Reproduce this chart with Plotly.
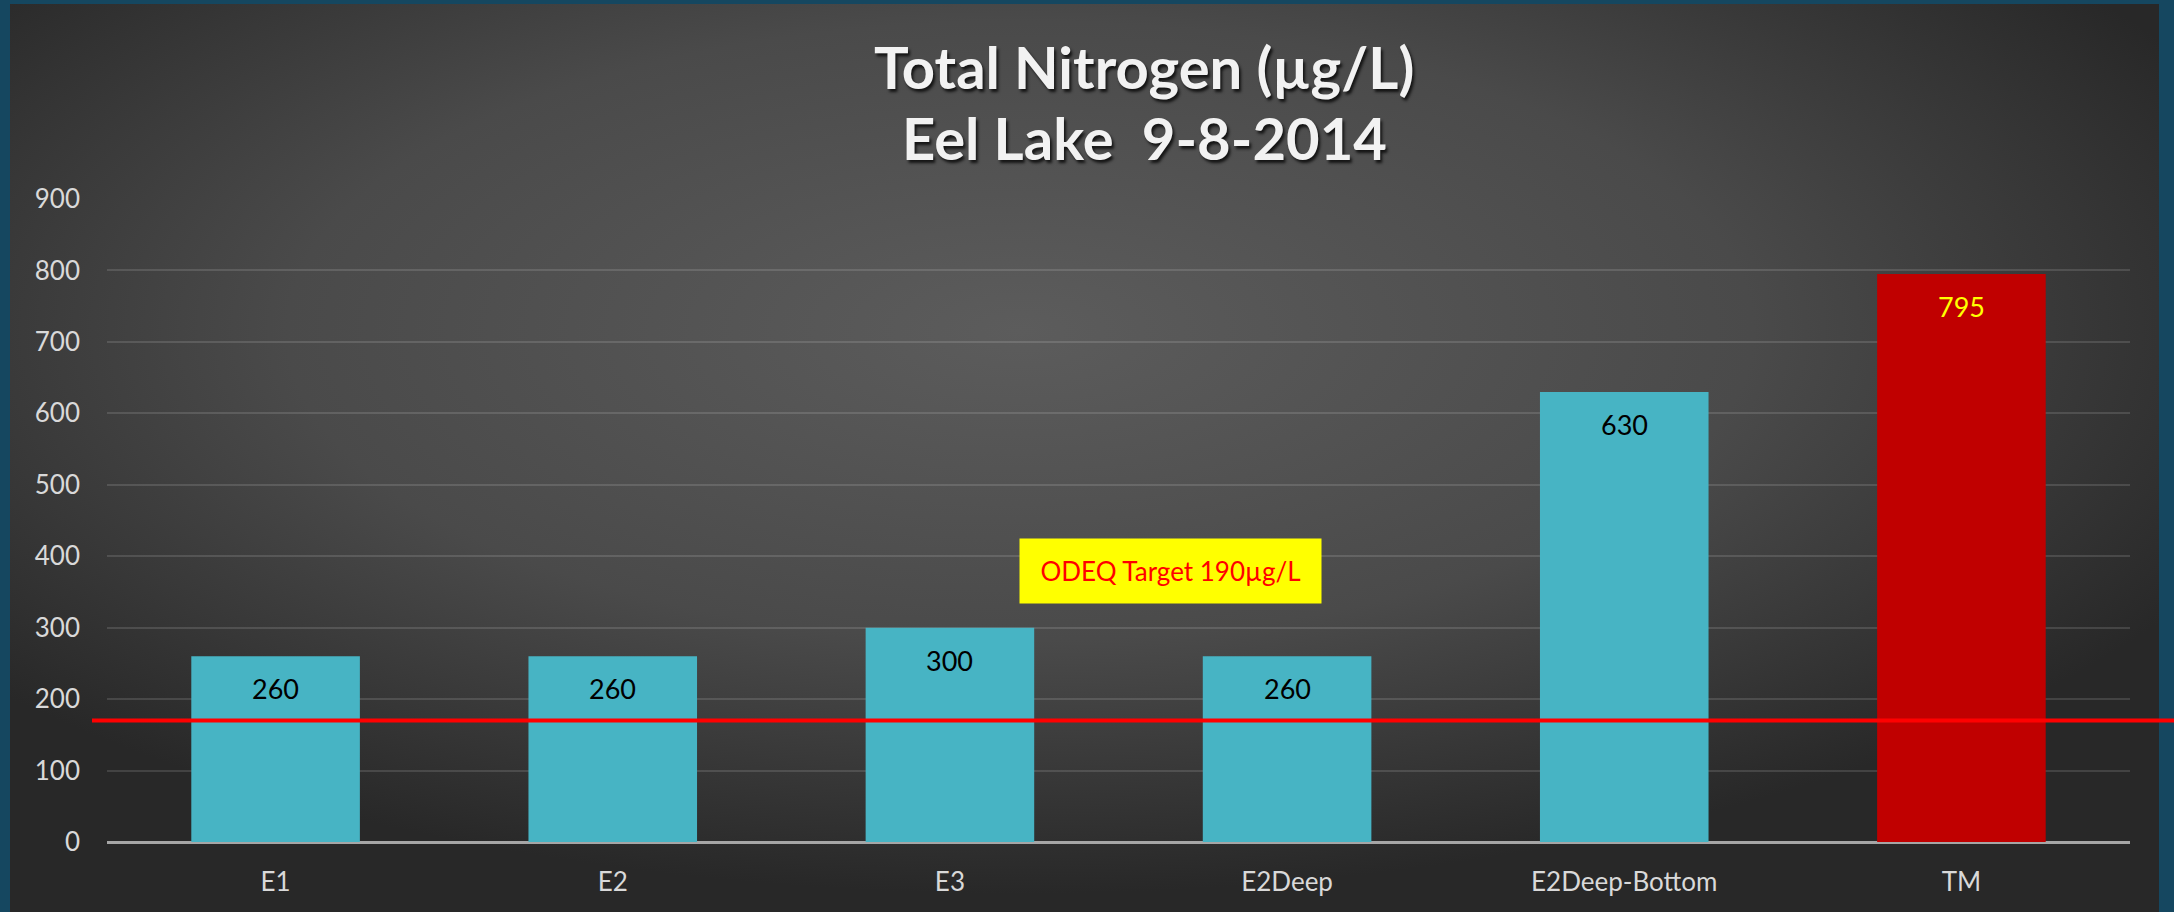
import base64
import plotly.graph_objects as go

# data
sites = ["E1", "E2", "E3", "E2Deep", "E2Deep-Bottom", "TM"]
total_n = [260, 260, 300, 260, 630, 795]
bar_colors = ["#47b4c4", "#47b4c4", "#47b4c4", "#47b4c4", "#47b4c4", "#c00000"]
label_colors = ["#000000", "#000000", "#000000", "#000000", "#000000", "#ffff00"]
target_line = 170
target_text = "ODEQ Target 190µg/L"
title_lines = ["Total Nitrogen (µg/L)", "Eel Lake  9-8-2014"]
y_ticks = [0, 100, 200, 300, 400, 500, 600, 700, 800, 900]

W, H = 2174, 912
ML, MR, MT, MB = 107, 44, 199, 70
FONT = "Lato, 'Open Sans', sans-serif"

# radial grey gradient for the slide panel
svg = (
    "<svg xmlns='http://www.w3.org/2000/svg' viewBox='0 0 100 100' preserveAspectRatio='none'>"
    "<defs><radialGradient id='g' cx='0.47' cy='0.36' r='0.62'>"
    "<stop offset='0' stop-color='#5c5c5c'/><stop offset='0.55' stop-color='#4a4a4a'/>"
    "<stop offset='1' stop-color='#282828'/></radialGradient></defs>"
    "<rect x='0' y='0' width='100' height='100' fill='url(#g)'/></svg>"
)
bg_src = "data:image/svg+xml;base64," + base64.b64encode(svg.encode()).decode()

pw, ph = W - ML - MR, H - MT - MB
panel = dict(left=10, right=2159, top=4, bottom=912)


def px_to_paper_y(py):
    return (H - MB - py) / ph


fig = go.Figure()
fig.add_trace(go.Bar(
    x=sites, y=total_n,
    marker=dict(color=bar_colors, line=dict(width=0)),
    width=0.5,
    hoverinfo="x+y",
))

# value labels near the top of each bar
for s, v, c in zip(sites, total_n, label_colors):
    fig.add_annotation(x=s, y=v, text=str(v), showarrow=False,
                       yanchor="top", yshift=-14,
                       font=dict(family=FONT, size=27, color=c))

# target line
fig.add_shape(type="line", xref="paper", yref="y",
              x0=(92 - ML) / pw, x1=(W - ML) / pw, y0=target_line, y1=target_line,
              line=dict(color="#ff0000", width=4))

fig.add_annotation(xref="paper", yref="y", x=(1170 - ML) / pw, y=380,
                   text=target_text, showarrow=False,
                   bgcolor="#ffff00", width=297, height=60, borderpad=2,
                   font=dict(family=FONT, size=26, color="#ff0000"))

# two-line title
for txt, cy in zip(title_lines, [67, 137]):
    fig.add_annotation(xref="paper", yref="paper", x=(1144 - ML) / pw, y=px_to_paper_y(cy),
                       text=txt, showarrow=False, xanchor="center", yanchor="middle",
                       font=dict(family=FONT, size=58, color="#f2f2f2", weight="bold",
                                 shadow="2px 3px 3px rgba(0,0,0,0.75)"))

fig.add_layout_image(dict(
    source=bg_src, xref="paper", yref="paper",
    x=(panel["left"] - ML) / pw, y=px_to_paper_y(panel["top"]),
    sizex=(panel["right"] - panel["left"]) / pw,
    sizey=(panel["bottom"] - panel["top"]) / ph,
    xanchor="left", yanchor="top", sizing="stretch", layer="below",
))

fig.update_layout(
    width=W, height=H,
    margin=dict(l=ML, r=MR, t=MT, b=MB),
    paper_bgcolor="#154760",
    plot_bgcolor="rgba(0,0,0,0)",
    showlegend=False,
    font=dict(family=FONT, color="#d9d9d9"),
)
fig.update_xaxes(
    showgrid=False, showline=False, ticks="",
    tickfont=dict(family=FONT, size=26, color="#d9d9d9"),
    ticklabelstandoff=22,
)
fig.update_yaxes(
    range=[0, 900], tickvals=y_ticks,
    showgrid=True, gridcolor="rgba(255,255,255,0.13)", gridwidth=2,
    zeroline=True, zerolinecolor="#a6a6a6", zerolinewidth=3,
    showline=False, ticks="",
    tickfont=dict(family=FONT, size=26, color="#d9d9d9"),
    ticklabelstandoff=26,
)

fig.write_html("out.html", config={"displayModeBar": False},
               post_script="document.body.style.margin='0px';document.body.style.overflow='hidden';")
